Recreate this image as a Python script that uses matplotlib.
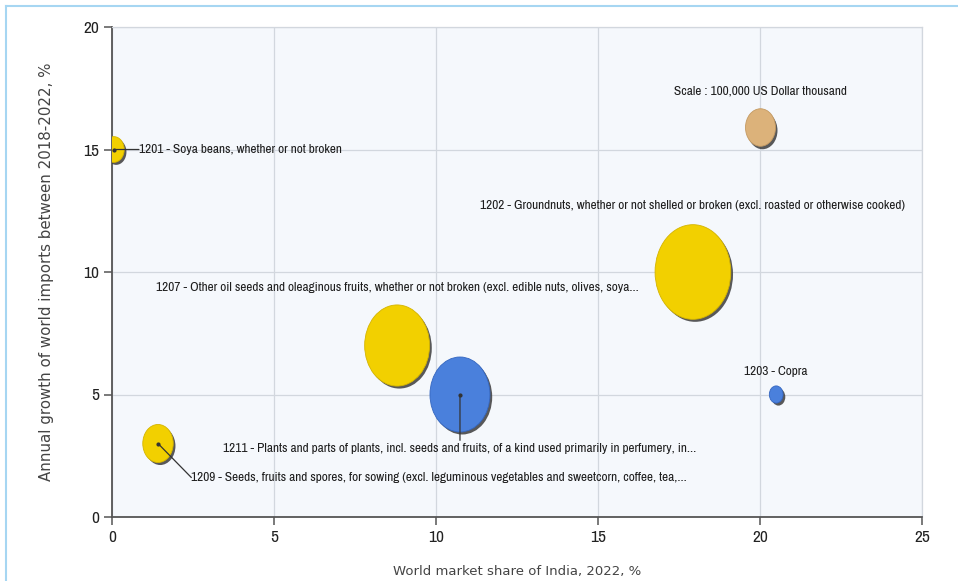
import matplotlib
matplotlib.use('Agg')
import matplotlib.pyplot as plt
import numpy as np
from matplotlib import font_manager
from matplotlib.path import Path
from matplotlib.transforms import Affine2D, ScaledTranslation
from matplotlib.lines import Line2D

# Products: India's world market share vs growth of world imports
codes = ['1201', '1202', '1207', '1211', '1209', '1203']
labels = [
    '1201 - Soya beans, whether or not broken',
    '1202 - Groundnuts, whether or not shelled or broken (excl. roasted or otherwise cooked)',
    '1207 - Other oil seeds and oleaginous fruits, whether or not broken (excl. edible nuts, olives, soya...',
    '1211 - Plants and parts of plants, incl. seeds and fruits, of a kind used primarily in perfumery, in...',
    '1209 - Seeds, fruits and spores, for sowing (excl. leguminous vegetables and sweetcorn, coffee, tea,...',
    '1203 - Copra',
]
market_share = [0.06, 17.93, 8.8, 10.74, 1.42, 20.5]
import_growth = [15.0, 10.0, 7.0, 5.0, 3.0, 5.0]
trade_value = [47000, 637000, 468000, 400000, 103000, 21000]  # US Dollar thousand
colors = ['#f2d000', '#f2d000', '#f2d000', '#4a80dc', '#f2d000', '#4a80dc']
edges = ['#d4b400', '#d4b400', '#d4b400', '#3466c0', '#d4b400', '#3466c0']

# scale bubble
scale_value = 100000
scale_pos = (20.0, 15.9)

# narrow face for chart texts, first one found
installed = {f.name for f in font_manager.fontManager.ttflist}
narrow_pref = ['Liberation Sans Narrow', 'Arial Narrow', 'Archivo Narrow',
               'PT Sans Narrow', 'Roboto Condensed', 'Open Sans Condensed',
               'Liberation Sans']
NARROW = [next(n for n in narrow_pref if n in installed), 'DejaVu Sans']
LABEL_FS = 9.6

fig = plt.figure(figsize=(9.58, 5.81), dpi=100, facecolor='white')
ax = fig.add_axes([112/958, 1-517/581, 810/958, 490/581])
ax.set_facecolor('#f5f8fc')

# slightly tall ellipse marker
ellipse = Path.unit_circle().transformed(Affine2D().scale(0.8, 1.0))


def bubble_size(v):
    return 729 * np.asarray(v, dtype=float) / scale_value


shadow = ax.transData + ScaledTranslation(1.6/72, -1.8/72, fig.dpi_scale_trans)

ax.scatter(market_share, import_growth, s=bubble_size(trade_value), marker=ellipse,
           c='#3c3c3c', alpha=0.85, linewidths=0, transform=shadow, zorder=3)
ax.scatter(market_share, import_growth, s=bubble_size(trade_value), marker=ellipse,
           c=colors, edgecolors=edges, linewidths=0.6, zorder=4)

ax.scatter([scale_pos[0]], [scale_pos[1]], s=bubble_size([scale_value]), marker=ellipse,
           c='#3c3c3c', alpha=0.85, linewidths=0, transform=shadow, zorder=3)
ax.scatter([scale_pos[0]], [scale_pos[1]], s=bubble_size([scale_value]), marker=ellipse,
           c='#dcb27a', edgecolors='#c49a62', linewidths=0.6, zorder=4)
ax.annotate('Scale : 100,000 US Dollar thousand', scale_pos, xytext=(0, 26),
            textcoords='offset points', ha='center', va='center',
            fontsize=LABEL_FS, family=NARROW, color='#1e1e1e', zorder=6)

# label offsets (points) and whether a leader line is drawn
offsets = {
    '1201': ((18, 0), 'left', True),
    '1202': ((0, 48), 'center', False),
    '1207': ((0, 42), 'center', False),
    '1211': ((0, -39), 'center', True),
    '1209': ((24, -24.5), 'left', True),
    '1203': ((0, 16.5), 'center', False),
}
for code, lab, x, y in zip(codes, labels, market_share, import_growth):
    (dx, dy), ha, leader = offsets[code]
    ax.annotate(lab, (x, y), xytext=(dx, dy), textcoords='offset points',
                ha=ha, va='center', fontsize=LABEL_FS, family=NARROW,
                color='#1e1e1e', zorder=6)
    if leader:
        end = (0, dy + 6) if code == '1211' else (dx, dy)
        ax.annotate('', (x, y), xytext=end, textcoords='offset points',
                    arrowprops=dict(arrowstyle='-', color='#333333', lw=0.9,
                                    shrinkA=0, shrinkB=0), zorder=5)
        ax.plot([x], [y], marker='o', ms=2, color='#333333', zorder=5)

ax.set_xlim(0, 25)
ax.set_ylim(0, 20)
ax.set_xticks([0, 5, 10, 15, 20, 25])
ax.set_yticks([0, 5, 10, 15, 20])
ax.grid(True, color='#d2d7de', linewidth=0.9, zorder=0)
ax.set_axisbelow(True)
for side in ['top', 'right']:
    ax.spines[side].set_color('#d2d7de')
    ax.spines[side].set_linewidth(0.9)
for side in ['left', 'bottom']:
    ax.spines[side].set_color('#555555')
    ax.spines[side].set_linewidth(1.3)
ax.tick_params(direction='out', length=6, width=1.1, color='#555555',
               labelsize=12.5, labelcolor='#222222', pad=3)
for lbl in ax.get_xticklabels() + ax.get_yticklabels():
    lbl.set_family(NARROW)

ax.set_xlabel('World market share of India, 2022, %', fontsize=9.5,
              color='#444444', labelpad=15)
ax.set_ylabel('Annual growth of world imports between 2018-2022, %', fontsize=10.8,
              color='#444444', labelpad=21)

# light blue frame
fig.add_artist(Line2D([6/958, 1], [1-5.5/581, 1-5.5/581], transform=fig.transFigure,
                      color='#a6d6f2', lw=1.5))
fig.add_artist(Line2D([6/958, 6/958], [0, 1-5.5/581], transform=fig.transFigure,
                      color='#a6d6f2', lw=1.5))

fig.savefig('out.png', dpi=100, facecolor='white')
